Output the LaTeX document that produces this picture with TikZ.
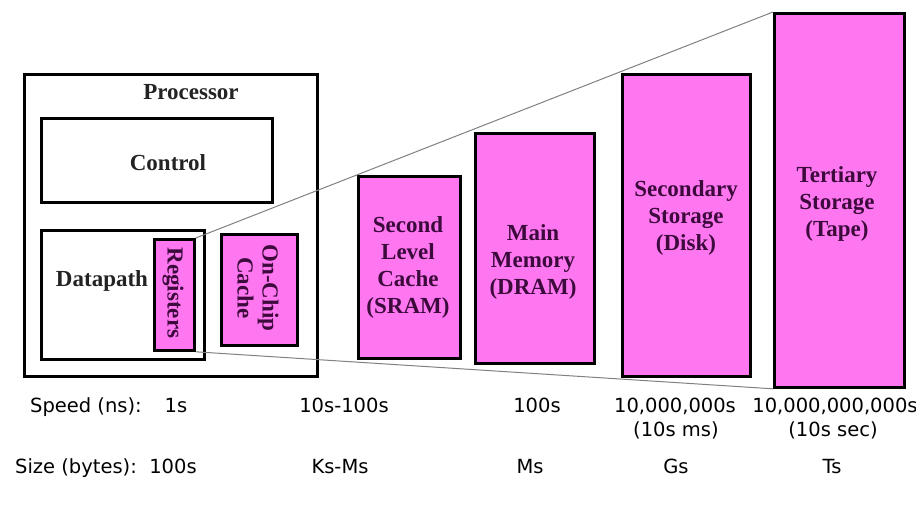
\documentclass[tikz,border=0pt]{standalone}
\usepackage{fontspec}
\setmainfont{Liberation Serif}
\setsansfont{DejaVu Sans}
\usetikzlibrary{positioning}

\definecolor{memfill}{RGB}{255,119,240}
\definecolor{memtext}{RGB}{60,10,60}
\definecolor{cputext}{RGB}{35,35,35}

\tikzset{
  blockbox/.style={draw, line width=2.8pt, inner sep=0pt, anchor=north west},
  membox/.style={blockbox, fill=memfill},
  cpulabel/.style={font=\bfseries\fontsize{23}{26}\selectfont, text=cputext},
  memlabel/.style={font=\bfseries\fontsize{23}{27}\selectfont, text=memtext, align=center},
  rowlabel/.style={font=\sffamily\fontsize{19.5}{23}\selectfont, anchor=base},
  funnel/.style={gray, line width=1pt}
}

\begin{document}
\begin{tikzpicture}[x=1pt, y=-1pt]
  \useasboundingbox (0,0) rectangle (916,512);
  % processor side
  \node[blockbox, minimum width=293, minimum height=302] (proc) at (23,73) {};
  \node[blockbox, minimum width=231, minimum height=84] (ctrl) at (40,117) {};
  \node[blockbox, minimum width=163, minimum height=129] (dpath) at (40,229) {};
  \node[membox, minimum width=40, minimum height=111] (regs) at (153,238) {};
  \node[membox, minimum width=76, minimum height=111] (onchip) at (220,233) {};
  \node[cpulabel] (procT) at (191,92) {Processor};
  \node[cpulabel] (ctrlT) at (168,163) {Control};
  \node[cpulabel] (dpathT) at (102,281) {Datapath};
  \node[memlabel, rotate=-90] (regsT) at (173,293) {Registers};
  \node[memlabel, rotate=-90, font=\bfseries\fontsize{23}{25}\selectfont] (onchipT) at (258,288) {On-Chip\\Cache};
  % memory levels
  \node[membox, minimum width=102, minimum height=182] (slc) at (357,175) {};
  \node[membox, minimum width=119, minimum height=230] (dram) at (474,132) {};
  \node[membox, minimum width=128, minimum height=302] (disk) at (621,73) {};
  \node[membox, minimum width=130, minimum height=374] (tape) at (773,12) {};
  \node[memlabel] (slcT) at (408,267) {Second\\Level\\Cache\\(SRAM)};
  \node[memlabel] (dramT) at (533,262) {Main\\Memory\\(DRAM)};
  \node[memlabel] (diskT) at (686,218) {Secondary\\Storage\\(Disk)};
  \node[memlabel] (tapeT) at (837,204) {Tertiary\\Storage\\(Tape)};
  \draw[funnel] (regs.north east) -- (tape.north west);
  \draw[funnel] (regs.south east) -- (tape.south west);
  % speed and size rows
  \node[rowlabel] (speedH) at (86,412) {Speed (ns):};
  \node[rowlabel] (speedR) at (176,412) {1s};
  \node[rowlabel] (speedS) at (344,412) {10s-100s};
  \node[rowlabel] (speedM) at (537,412) {100s};
  \node[rowlabel] (speedD) at (675,412) {10,000,000s};
  \node[rowlabel] (speedT) at (835,412) {10,000,000,000s};
  \node[rowlabel] (speedDb) at (676,436) {(10s ms)};
  \node[rowlabel] (speedTb) at (833,436) {(10s sec)};
  \node[rowlabel] (sizeH) at (76,473) {Size (bytes):};
  \node[rowlabel] (sizeR) at (173,473) {100s};
  \node[rowlabel] (sizeS) at (340,473) {Ks-Ms};
  \node[rowlabel] (sizeM) at (530,473) {Ms};
  \node[rowlabel] (sizeD) at (676,473) {Gs};
  \node[rowlabel] (sizeT) at (832,473) {Ts};
\end{tikzpicture}
\end{document}
